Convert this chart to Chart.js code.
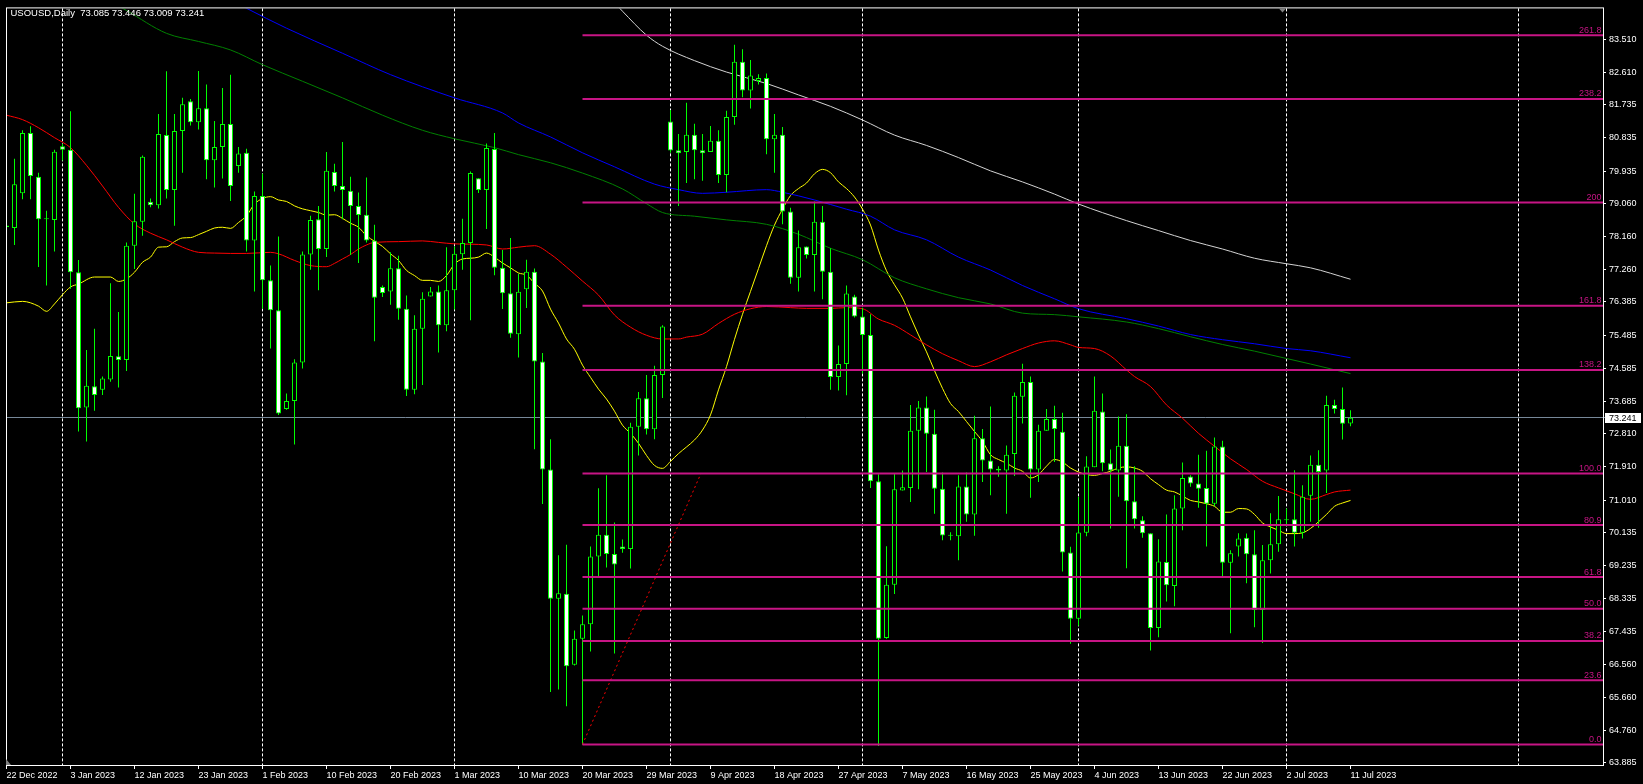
<!DOCTYPE html>
<html><head><meta charset="utf-8">
<script src="https://cdn.jsdelivr.net/npm/chart.js@4.4.1/dist/chart.umd.min.js"></script>
<style>html,body{margin:0;padding:0;background:#000;overflow:hidden}canvas{display:block}</style>
</head><body>
<canvas id="c" width="1643" height="784"></canvas>
<script>
// ---------- DATA ----------
const chartTitle = 'USOUSD,Daily  73.085 73.446 73.009 73.241';
const opens = [78.41,78.39,79.33,80.97,79.78,78.63,78.61,80.61,80.51,77.19,73.52,74.10,74.00,74.28,74.91,74.81,77.91,78.56,79.10,79.01,80.91,79.42,81.02,81.83,81.26,81.64,80.23,80.59,81.21,80.07,80.43,78.05,79.26,76.97,76.16,73.48,73.70,74.74,77.67,78.63,77.82,79.91,79.53,79.40,78.99,78.75,78.05,76.79,76.67,77.30,76.20,74.00,75.66,76.53,76.67,75.75,76.70,77.68,77.98,79.74,79.42,80.53,77.31,76.62,75.51,76.73,77.20,74.77,71.84,68.33,68.47,66.54,67.25,67.64,69.48,70.07,69.55,69.75,69.68,73.00,73.77,72.93,74.40,81.28,80.50,80.45,80.92,80.50,80.45,80.76,79.83,81.40,82.90,82.12,82.38,82.46,80.80,80.92,78.84,77.04,77.89,77.66,78.56,77.20,74.35,74.70,76.53,75.99,75.49,71.52,67.27,68.71,71.27,71.34,72.89,73.52,72.81,71.32,70.05,70.03,71.38,70.62,72.69,72.08,71.86,71.81,72.26,73.81,74.21,71.84,72.89,73.21,72.86,69.59,67.79,70.12,71.90,73.41,72.01,71.81,72.48,70.98,70.46,70.11,67.54,69.33,68.68,70.78,71.65,71.46,71.34,70.91,72.46,69.31,69.75,69.99,69.54,68.03,69.38,69.81,70.47,70.49,70.12,71.13,71.97,71.81,73.59,73.48,73.085];
const highs = [79.84,80.27,81.04,81.15,79.89,78.86,80.51,80.67,81.56,77.52,75.08,75.66,74.36,76.89,76.11,78.00,79.32,80.36,79.19,81.48,82.64,81.48,81.92,81.89,82.65,82.28,81.29,82.19,82.55,80.59,80.54,79.38,79.86,77.37,78.16,73.90,74.83,77.75,78.72,78.99,80.45,80.13,80.72,79.78,79.35,79.76,78.48,76.83,77.73,77.64,76.56,76.02,76.65,76.79,76.83,77.87,77.89,78.64,79.92,79.74,80.68,80.97,77.79,78.12,77.15,77.53,77.29,75.00,72.66,69.51,69.80,67.47,67.88,69.75,71.33,71.68,70.40,69.94,73.11,73.94,74.40,74.65,75.75,81.59,80.94,81.79,81.22,80.94,81.16,81.04,81.57,83.36,83.24,82.95,82.56,82.58,81.48,81.13,78.94,78.32,77.89,79.11,78.99,77.84,75.20,76.83,76.58,76.23,76.05,71.71,69.76,71.73,71.81,73.59,73.70,73.82,73.46,71.76,70.14,71.68,71.76,73.30,72.94,73.55,71.93,72.49,73.93,74.71,74.36,73.05,73.48,73.57,73.38,69.74,71.09,72.20,74.36,73.90,72.38,73.28,73.34,71.93,70.57,70.11,69.95,70.62,71.14,72.03,71.68,72.24,72.35,72.71,72.62,69.65,70.11,70.10,70.19,69.79,70.65,71.12,70.78,71.82,71.41,72.22,72.36,73.84,73.73,74.06,73.446];
const lows = [77.00,77.93,79.17,79.17,77.33,76.83,77.75,80.22,76.74,72.87,72.60,73.43,73.86,74.22,74.06,74.51,77.28,78.18,78.95,78.92,79.19,78.45,79.89,81.17,81.06,79.71,79.49,79.73,79.12,79.89,77.75,76.67,76.20,75.12,73.32,73.46,72.52,74.58,77.26,76.70,77.60,79.38,78.63,77.66,77.44,78.00,75.32,76.52,76.31,75.90,73.83,73.88,74.13,76.53,75.01,75.59,76.18,77.26,75.89,79.34,78.36,77.11,76.19,75.41,74.88,76.22,72.39,70.90,65.80,65.87,65.42,66.52,64.37,66.90,68.91,69.18,66.85,69.58,69.15,72.22,72.79,72.66,73.78,80.43,78.99,79.61,79.71,79.67,80.45,79.61,79.36,81.19,81.94,81.63,82.28,80.39,79.89,78.49,76.88,76.67,77.56,76.67,76.46,74.00,73.98,73.85,75.96,74.44,71.34,64.34,67.25,68.46,71.27,70.96,71.30,71.77,70.64,69.92,69.92,69.38,70.42,70.04,71.50,71.14,71.64,70.64,71.66,73.09,71.07,71.50,72.89,72.04,69.07,67.11,67.60,70.03,71.90,71.79,70.24,71.10,69.16,70.24,69.99,66.93,67.29,68.26,68.13,70.19,71.37,70.80,69.75,70.84,68.95,67.40,69.48,68.75,67.56,67.13,69.02,69.61,70.30,69.75,69.97,70.42,70.26,71.20,73.36,72.65,73.009];
const closes = [78.46,79.58,80.97,79.80,78.63,78.65,80.46,80.51,77.19,73.50,74.11,73.86,74.31,74.92,74.81,77.91,78.57,80.32,79.01,80.94,79.42,81.02,81.75,81.26,81.64,80.23,80.59,81.21,79.53,80.41,78.05,79.26,76.97,76.16,73.36,73.70,74.74,77.67,78.61,77.82,79.94,79.53,79.42,78.99,78.74,78.05,76.50,76.63,77.30,76.20,74.00,75.66,76.47,76.67,75.75,76.70,77.69,77.98,79.88,79.42,80.56,77.31,76.62,75.52,76.66,77.20,74.77,71.84,68.33,68.48,66.50,67.25,67.64,69.48,70.07,69.55,69.26,69.68,73.00,73.77,72.93,74.40,75.72,80.49,80.42,80.92,80.50,80.42,80.76,79.83,81.40,82.90,82.12,82.53,82.46,80.80,80.92,78.84,77.04,77.87,77.66,78.56,77.20,74.35,74.70,76.61,75.99,75.49,71.52,67.25,68.71,71.30,71.36,72.89,73.52,72.81,71.32,70.05,70.04,71.38,70.62,72.69,72.08,71.84,71.81,72.24,73.84,74.21,71.84,72.89,73.21,72.94,69.59,67.79,70.13,71.92,73.43,72.01,71.81,72.48,70.98,70.49,70.11,67.54,69.34,68.70,70.78,71.61,71.46,71.32,70.91,72.46,69.31,69.57,69.97,69.54,68.03,69.38,69.81,70.49,70.46,70.12,71.10,71.97,71.77,73.59,73.48,73.08,73.241];

const tickBars = [0,8,16,24,32,40,48,56,64,72,80,88,96,104,112,120,128,136,144,152,160,168];
const tickLabels = ['22 Dec 2022','3 Jan 2023','12 Jan 2023','23 Jan 2023','1 Feb 2023','10 Feb 2023','20 Feb 2023','1 Mar 2023','10 Mar 2023','20 Mar 2023','29 Mar 2023','9 Apr 2023','18 Apr 2023','27 Apr 2023','7 May 2023','16 May 2023','25 May 2023','4 Jun 2023','13 Jun 2023','22 Jun 2023','2 Jul 2023','11 Jul 2023'];
const priceTicks = [83.510,82.610,81.735,80.835,79.935,79.060,78.160,77.260,76.385,75.485,74.585,73.685,72.810,71.910,71.010,70.135,69.235,68.335,67.435,66.560,65.660,64.760,63.885];
const monthStartBars = [7,32,56,83,107,134,160,189];

const yellowBars = [0,2,4,5,6,7,8,9,11,13,14,15,16,17,18,19,20,21,22,23,24,25,26,27,28,29,30,31,32,33,34,35,36,37,38,39,40,41,42,43,44,45,46,47,48,49,50,51,52,53,54,55,56,57,58,59,60,61,62,63,64,65,66,67,68,69,70,71,72,73,74,75,76,77,78,79,80,81,82,83,84,85,86,87,88,89,90,91,92,93,94,95,96,97,98,99,100,101,102,103,104,105,106,107,108,109,110,111,112,113,114,115,116,117,118,119,120,121,122,123,124,125,126,127,128,129,130,131,132,133,134,135,136,137,138,139,140,141,142,143,144,145,146,147,148,149,150,151,152,153,154,155,156,157,158,159,160,161,162,163,164,165,166,167,168];
const yellowVals = [76.36,76.40,76.27,76.13,76.33,76.58,76.79,76.87,77.06,77.06,76.94,77.01,77.19,77.46,77.60,77.87,77.88,78.02,78.12,78.13,78.21,78.30,78.39,78.41,78.38,78.54,78.72,79.04,79.19,79.24,79.15,79.11,78.99,78.91,78.86,78.81,78.74,78.75,78.65,78.52,78.41,78.18,78.03,77.89,77.69,77.51,77.24,77.10,76.97,76.97,76.94,77.10,77.41,77.55,77.57,77.60,77.71,77.60,77.44,77.31,77.17,77.11,76.89,76.68,76.19,75.81,75.38,75.10,74.67,74.34,74.02,73.75,73.42,73.04,72.82,72.55,72.22,71.95,71.87,72.06,72.27,72.45,72.64,72.91,73.32,74.00,74.63,75.37,76.05,76.67,77.29,77.91,78.47,78.90,79.27,79.46,79.61,79.86,79.98,79.89,79.64,79.46,79.23,78.90,78.47,77.79,77.23,76.85,76.49,75.98,75.49,75.03,74.52,74.04,73.63,73.41,73.14,72.87,72.60,72.24,72.11,72.01,71.88,71.79,71.61,71.70,71.93,72.11,72.04,71.88,71.77,71.70,71.68,71.73,71.79,71.88,71.91,71.88,71.79,71.59,71.43,71.28,71.23,71.12,71.00,70.96,70.91,70.84,70.68,70.68,70.78,70.77,70.62,70.39,70.28,70.19,70.10,70.10,70.12,70.24,70.42,70.62,70.84,70.93,71.00];

const redBars = [0,2,4,6,8,10,12,14,16,18,20,22,24,26,28,30,33,34,36,38,40,41,42,43,44,45,46,49,52,54,56,60,62,64,66,68,70,72,74,76,78,80,82,84,85,87,89,91,93,95,98,100,103,105,107,109,111,113,115,117,119,121,123,125,127,129,131,133,134,136,138,140,141,143,145,147,149,151,153,155,157,159,161,163,165,166,168];
const redVals = [81.45,81.33,81.11,80.84,80.57,80.09,79.53,78.95,78.50,78.25,78.07,77.87,77.73,77.71,77.70,77.70,77.73,77.69,77.51,77.37,77.34,77.43,77.55,77.67,77.82,77.93,78.00,78.02,78.04,78.00,77.96,77.93,77.82,77.87,77.91,77.68,77.33,76.95,76.57,76.03,75.70,75.48,75.38,75.38,75.43,75.51,75.80,76.05,76.20,76.26,76.23,76.21,76.21,76.23,76.20,75.92,75.75,75.49,75.22,74.98,74.79,74.63,74.76,74.95,75.12,75.27,75.33,75.22,75.15,75.12,74.92,74.54,74.36,74.09,73.59,73.23,72.82,72.47,72.13,71.84,71.52,71.34,71.18,71.03,71.16,71.23,71.28];

const greenBars = [0,15,20,24,28,32,37,42,47,52,56,61,64,68,72,77,80,82,86,90,95,99,103,107,111,115,119,123,127,131,134,140,144,148,152,156,160,163,168];
const greenVals = [86.10,84.29,83.67,83.45,83.22,82.82,82.37,81.92,81.45,81.04,80.81,80.57,80.38,80.16,79.88,79.45,79.05,78.81,78.71,78.61,78.49,78.22,77.84,77.53,77.04,76.74,76.50,76.33,76.08,76.04,75.98,75.84,75.66,75.44,75.23,75.05,74.85,74.70,74.44];

const blueBars = [24,30,35,42,48,56,62,64,68,72,76,81,84,87,90,95,97,101,105,108,111,115,119,123,127,131,134,140,144,148,152,156,160,163,168];
const blueVals = [85.02,84.35,83.81,83.13,82.55,81.92,81.51,81.24,80.86,80.43,80.05,79.58,79.43,79.33,79.36,79.43,79.36,79.15,78.90,78.71,78.34,78.07,77.60,77.25,76.83,76.47,76.20,75.93,75.73,75.50,75.36,75.25,75.12,75.06,74.87];

const whiteBars = [76,77,80,82,86,90,95,99,103,107,111,115,119,123,127,131,134,140,144,148,152,156,160,163,168];
const whiteVals = [84.50,84.27,83.62,83.32,82.93,82.62,82.31,82.00,81.69,81.32,80.91,80.63,80.30,79.94,79.64,79.31,79.04,78.59,78.32,78.05,77.82,77.57,77.42,77.31,77.00];

const fibLabels = ['0.0','23.6','38.2','50.0','61.8','80.9','100.0','138.2','161.8','200','238.2','261.8'];
const fibPrices = [64.38,66.12,67.19,68.06,68.92,70.33,71.73,74.54,76.28,79.08,81.89,83.62];
const fibStartBar = 72;
const trendBars = [72, 86.8];
const trendPrices = [64.38, 71.73];
const lastPrice = 73.241;

// ---------- STYLE / SCALE SETTINGS ----------
const X_MIN = -0.0625, X_MAX = 199.5625;
const Y_MIN = 63.823, Y_MAX = 84.347;
const CANDLE = '#00ff00';
const FIB = '#c71585';
const FONT = '"Liberation Sans", Arial, sans-serif';

Chart.defaults.font.family = FONT;
Chart.defaults.font.size = 9;
Chart.defaults.color = '#ffffff';

const idx = closes.map((_, i) => i);
const wickData = idx.map(i => ({x: i, y: [lows[i], highs[i]]}));
const bodyData = idx.map(i => ({x: i, y: [opens[i], closes[i]]}));
const bodyFill = idx.map(i => closes[i] >= opens[i] ? '#000000' : '#ffffff');

function maSet(bars, vals, color) {
  return {type: 'line', data: bars.map((b, i) => ({x: b, y: vals[i]})), borderColor: color,
    borderWidth: 1, pointRadius: 0, cubicInterpolationMode: 'monotone', order: 5, fill: false};
}

const datasets = [
  {type: 'bar', data: wickData, backgroundColor: CANDLE, borderWidth: 0, barThickness: 1,
    grouped: false, minBarLength: 1, inflateAmount: 0, order: 3},
  {type: 'bar', data: bodyData, backgroundColor: bodyFill, borderColor: CANDLE, borderWidth: 1,
    borderSkipped: false, barThickness: 5, grouped: false, minBarLength: 1, inflateAmount: 0, order: 2},
  maSet(whiteBars, whiteVals, '#d3d3d3'),
  maSet(blueBars, blueVals, '#0000ff'),
  maSet(greenBars, greenVals, '#008000'),
  maSet(redBars, redVals, '#ff0000'),
  maSet(yellowBars, yellowVals, '#ffff00'),
  {type: 'line', data: trendBars.map((b, i) => ({x: b, y: trendPrices[i]})), borderColor: '#ff0000',
    borderWidth: 1, borderDash: [2, 3], pointRadius: 0, order: 1}
];
fibPrices.forEach(p => datasets.push({type: 'line', data: [{x: fibStartBar, y: p}, {x: X_MAX, y: p}],
  borderColor: FIB, borderWidth: 2, pointRadius: 0, order: 0}));

const decor = {
  id: 'decor',
  beforeDraw(chart) {
    const c = chart.ctx;
    c.save(); c.fillStyle = '#000'; c.fillRect(0, 0, chart.width, chart.height); c.restore();
  },
  beforeDatasetsDraw(chart) {
    const c = chart.ctx, a = chart.chartArea, xs = chart.scales.x, ys = chart.scales.y;
    c.save();
    c.strokeStyle = '#ffffff'; c.lineWidth = 1; c.setLineDash([3, 2]);
    monthStartBars.forEach(b => {
      const x = Math.round(xs.getPixelForValue(b) - 0.5) + 0.5;
      c.beginPath(); c.moveTo(x, a.top); c.lineTo(x, a.bottom); c.stroke();
    });
    c.setLineDash([]);
    const py = Math.round(ys.getPixelForValue(lastPrice) - 0.5) + 0.5;
    c.strokeStyle = '#778899';
    c.beginPath(); c.moveTo(a.left, py); c.lineTo(a.right + 2, py); c.stroke();
    c.restore();
  },
  afterDraw(chart) {
    const c = chart.ctx, a = chart.chartArea, ys = chart.scales.y;
    c.save();
    // fib labels
    c.font = '9px ' + FONT; c.fillStyle = FIB; c.textAlign = 'right'; c.textBaseline = 'alphabetic';
    fibPrices.forEach((p, i) => {
      c.fillText(fibLabels[i], a.right - 1.5, ys.getPixelForValue(p) - 2.5);
    });
    // frame
    c.strokeStyle = '#ffffff'; c.lineWidth = 1;
    c.strokeRect(a.left + 0.5, a.top - 0.5, a.right - a.left, a.bottom - a.top + 1);
    // last price box
    const py = ys.getPixelForValue(lastPrice);
    c.fillStyle = '#ffffff'; c.fillRect(a.right + 2, Math.round(py) - 5, 36, 10);
    c.fillStyle = '#000000'; c.textAlign = 'left'; c.textBaseline = 'middle';
    c.fillText(lastPrice.toFixed(3), a.right + 6, Math.round(py) + 0.5);
    // title
    c.fillStyle = '#ffffff'; c.textBaseline = 'alphabetic'; c.font = '9.5px ' + FONT;
    c.fillText(chartTitle, 10.5, 16);
    // shift markers
    c.fillStyle = '#808080';
    c.beginPath(); c.moveTo(1279, a.top); c.lineTo(1286, a.top); c.lineTo(1282.5, a.top + 4); c.closePath(); c.fill();
    c.beginPath(); c.moveTo(a.left, a.bottom); c.lineTo(a.left, a.bottom - 6); c.lineTo(a.left + 5, a.bottom); c.closePath(); c.fill();
    c.restore();
  }
};

new Chart(document.getElementById('c'), {
  type: 'bar',
  data: {datasets},
  options: {
    responsive: false, animation: false, devicePixelRatio: 1, events: [],
    layout: {padding: {left: 6, top: 5, right: 0, bottom: 0}},
    plugins: {legend: {display: false}, tooltip: {enabled: false}, title: {display: false}},
    scales: {
      x: {
        type: 'linear', min: X_MIN, max: X_MAX, offset: false,
        afterBuildTicks: s => { s.ticks = tickBars.map(v => ({value: v})); },
        afterFit: s => { s.height = 19; },
        ticks: {autoSkip: false, maxRotation: 0, minRotation: 0, align: 'start', padding: 1,
          color: '#ffffff', font: {size: 9, family: FONT},
          callback: (v, i) => tickLabels[i]},
        grid: {drawOnChartArea: false, drawTicks: true, tickLength: 4, tickColor: '#ffffff', offset: false},
        border: {display: false}
      },
      y: {
        type: 'linear', position: 'right', min: Y_MIN, max: Y_MAX,
        afterBuildTicks: s => { s.ticks = priceTicks.map(v => ({value: v})); },
        afterFit: s => { s.width = 40; },
        ticks: {autoSkip: false, padding: 3, color: '#ffffff', font: {size: 9, family: FONT},
          callback: v => Number(v).toFixed(3)},
        grid: {drawOnChartArea: false, drawTicks: true, tickLength: 3, tickColor: '#ffffff'},
        border: {display: false}
      }
    }
  },
  plugins: [decor]
});
</script>
</body></html>
